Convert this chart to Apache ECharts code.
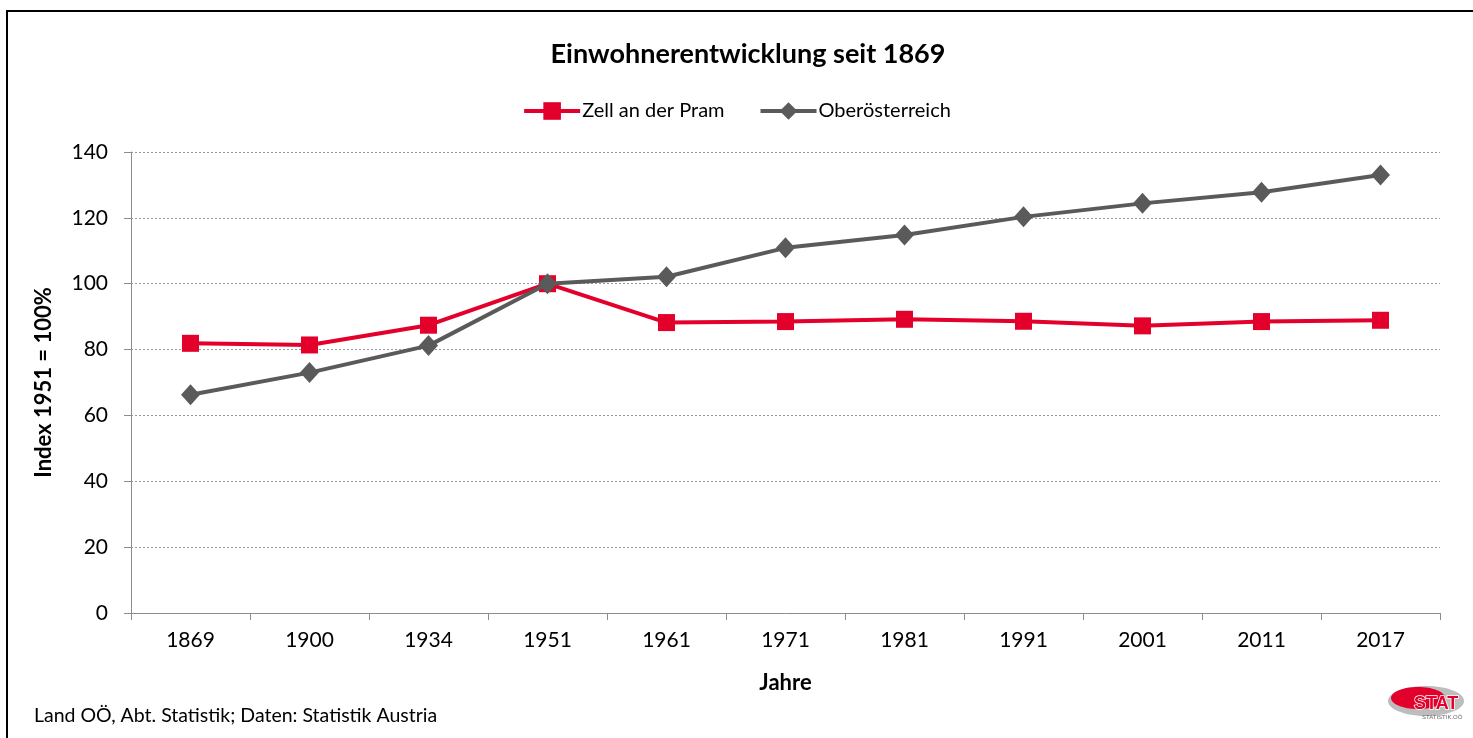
<!DOCTYPE html>
<html>

<head>
    <meta charset="UTF-8" />
    <title>Einwohnerentwicklung seit 1869</title>
    <script src="https://cdn.jsdelivr.net/npm/echarts@6/dist/echarts.min.js"></script>
    <style>
        html, body { margin: 0; padding: 0; background: #fff; }
        #chart { width: 1473px; height: 738px; }
    </style>
</head>

<body>
    <div id="chart"></div>

    <script type="text/javascript">
        // Daten (Index 1951 = 100%)
        let years = ['1869', '1900', '1934', '1951', '1961', '1971', '1981', '1991', '2001', '2011', '2017'];
        let zellValues = [81.9, 81.4, 87.4, 100, 88.2, 88.5, 89.2, 88.6, 87.2, 88.5, 88.9];
        let ooeValues = [66.3, 73.0, 81.2, 100, 102.1, 110.9, 114.8, 120.3, 124.4, 127.8, 133.0];
        let yTicks = [0, 20, 40, 60, 80, 100, 120, 140];

        let font = 'Lato, "Open Sans", sans-serif';
        let red = '#e3002b';
        let grey = '#5a5a5a';

        let chart = echarts.init(document.getElementById('chart'));
        let option = {
            animation: false,
            backgroundColor: '#fff',
            textStyle: { fontFamily: font },
            title: {
                text: 'Einwohnerentwicklung seit 1869',
                left: 743,
                textAlign: 'center',
                top: 36,
                textStyle: { fontFamily: font, fontSize: 27, fontWeight: 'bold', color: '#000' }
            },
            legend: {
                top: 96,
                left: 'center',
                itemGap: 34,
                itemWidth: 56,
                itemHeight: 22,
                lineStyle: { width: 4 },
                textStyle: { fontFamily: font, fontSize: 20, color: '#000', padding: [0, 0, 0, -3] },
                data: ['Zell an der Pram', 'Oberösterreich']
            },
            grid: { left: 131, right: 33, top: 152, bottom: 125 },
            xAxis: {
                type: 'category',
                data: years,
                boundaryGap: true,
                name: 'Jahre',
                nameLocation: 'middle',
                nameGap: 59,
                nameTextStyle: { fontFamily: font, fontSize: 22, fontWeight: 'bold', color: '#000' },
                axisLine: { lineStyle: { color: '#8c8c8c', width: 1 } },
                axisTick: { show: true, length: 7, lineStyle: { color: '#8c8c8c' } },
                axisLabel: { fontFamily: font, fontSize: 21, color: '#000', margin: 17 }
            },
            yAxis: {
                type: 'value',
                min: yTicks[0],
                max: yTicks[yTicks.length - 1],
                interval: 20,
                name: 'Index 1951 = 100%',
                nameLocation: 'middle',
                nameGap: 76,
                nameTextStyle: { fontFamily: font, fontSize: 22, fontWeight: 'bold', color: '#000' },
                axisLine: { show: true, lineStyle: { color: '#8c8c8c', width: 1 } },
                axisTick: { show: true, length: 7, lineStyle: { color: '#8c8c8c' } },
                axisLabel: { fontFamily: font, fontSize: 21, color: '#000', margin: 23 },
                splitLine: { show: true, lineStyle: { color: '#9a9a9a', type: [2, 2], width: 1 } }
            },
            series: [
                {
                    name: 'Zell an der Pram',
                    type: 'line',
                    data: zellValues,
                    symbol: 'rect',
                    symbolSize: 17,
                    color: red,
                    lineStyle: { color: red, width: 4 },
                    itemStyle: { color: red },
                    z: 3
                },
                {
                    name: 'Oberösterreich',
                    type: 'line',
                    data: ooeValues,
                    symbol: 'diamond',
                    symbolSize: [19, 21],
                    color: grey,
                    lineStyle: { color: grey, width: 4 },
                    itemStyle: { color: grey },
                    z: 4
                }
            ],
            graphic: [
                {
                    type: 'rect',
                    shape: { x: 7, y: 11, width: 1480, height: 740 },
                    style: { fill: 'none', stroke: '#000', lineWidth: 2 },
                    silent: true
                },
                {
                    type: 'text',
                    left: 34,
                    top: 706,
                    style: { text: 'Land OÖ, Abt. Statistik; Daten: Statistik Austria', fontFamily: font, fontSize: 19.5, fill: '#000' }
                },
                // STAT-Logo
                {
                    type: 'group',
                    left: 1388,
                    top: 686,
                    children: [
                        {
                            type: 'ellipse',
                            shape: { cx: 38, cy: 16, rx: 38, ry: 15 },
                            style: { fill: '#bdbdbd' }
                        },
                        {
                            type: 'ellipse',
                            shape: { cx: 30, cy: 13, rx: 27, ry: 11 },
                            style: { fill: '#e3002b' }
                        },
                        {
                            type: 'text',
                            x: 26,
                            y: 10,
                            style: { text: 'STAT', fontFamily: 'Liberation Sans, sans-serif', fontSize: 18, fontWeight: 'bold', fill: '#e3002b', stroke: '#fff', lineWidth: 1.5 }
                        },
                        {
                            type: 'text',
                            x: 34,
                            y: 29,
                            style: { text: 'STATISTIK.OÖ', fontFamily: 'Liberation Sans, sans-serif', fontSize: 6, fill: '#666' }
                        }
                    ]
                }
            ]
        };
        chart.setOption(option);
    </script>
</body>

</html>
